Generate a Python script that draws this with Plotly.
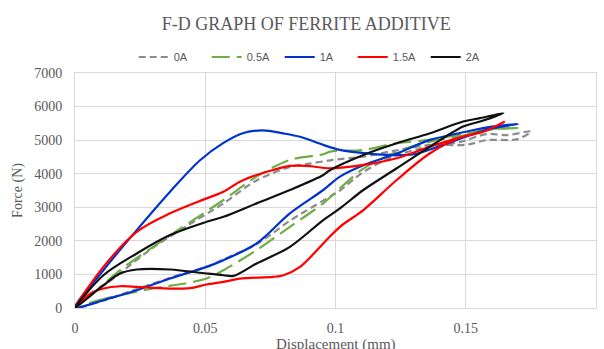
import plotly.graph_objects as go

# ---- data (displacement in mm, force in N); each loop = loading branch out, unloading branch back
x_0A = [0, 0.01, 0.025, 0.0416, 0.0505, 0.057, 0.0697, 0.0825, 0.0953, 0.1017, 0.1107, 0.1235, 0.136, 0.148, 0.158, 0.166, 0.175,
        0.17, 0.158, 0.15, 0.137, 0.1235, 0.1107, 0.099, 0.09, 0.0825, 0.0697, 0.057, 0.0441, 0.03, 0.015, 0]
f_0A = [0, 200, 600, 1027, 1224, 1450, 1900, 2600, 3200, 3500, 4050, 4550, 4800, 4950, 5180, 5150, 5260,
        5030, 5000, 4860, 4858, 4700, 4510, 4410, 4300, 4200, 3800, 3117, 2500, 1800, 900, 0]

x_05A = [0, 0.0077, 0.0173, 0.03, 0.0429, 0.0505, 0.057, 0.0697, 0.0825, 0.0953, 0.1017, 0.1107, 0.1235, 0.136, 0.15, 0.16, 0.17,
         0.16, 0.15, 0.136, 0.1235, 0.1107, 0.098, 0.0953, 0.0825, 0.0697, 0.057, 0.044, 0.03, 0.0173, 0.008, 0]
f_05A = [0, 200, 380, 580, 740, 877, 1126, 1723, 2419, 3117, 3564, 4150, 4650, 4950, 5150, 5320, 5360,
         5330, 5200, 5007, 4909, 4709, 4660, 4580, 4410, 3912, 3216, 2550, 1822, 1126, 500, 0]

x_1A = [0, 0.0045, 0.0109, 0.0237, 0.0365, 0.0505, 0.057, 0.0697, 0.0825, 0.0953, 0.1017, 0.1107, 0.1235, 0.136, 0.15, 0.16, 0.17,
        0.16, 0.15, 0.14, 0.13, 0.12, 0.11, 0.1017, 0.0953, 0.0864, 0.08, 0.072, 0.065, 0.057, 0.048, 0.0365, 0.0237, 0.0109, 0]
f_1A = [0, 80, 230, 530, 880, 1225, 1424, 1923, 2819, 3515, 3912, 4250, 4600, 5000, 5250, 5400, 5480,
        5350, 5100, 4820, 4580, 4560, 4620, 4709, 4858, 5100, 5200, 5290, 5220, 4920, 4400, 3464, 2320, 1126, 0]

x_15A = [0, 0.0058, 0.0109, 0.0173, 0.0237, 0.03, 0.0365, 0.0441, 0.0505, 0.057, 0.0633, 0.0761, 0.08, 0.0864, 0.0953, 0.1017,
         0.1107, 0.1235, 0.1363, 0.149, 0.157, 0.165,
         0.157, 0.149, 0.1363, 0.1235, 0.1107, 0.098, 0.089, 0.0825, 0.0761, 0.0697, 0.0633, 0.057, 0.0505, 0.0365, 0.0237, 0.0109, 0]
f_15A = [0, 430, 580, 648, 630, 600, 580, 590, 700, 777, 877, 926, 977, 1224, 1923, 2419,
         2917, 3813, 4610, 5106, 5256, 5554,
         5256, 5106, 4808, 4461, 4261, 4162, 4231, 4231, 4112, 3962, 3762, 3464, 3266, 2820, 2270, 1224, 0]

x_2A = [0, 0.0109, 0.0173, 0.0237, 0.0365, 0.0505, 0.057, 0.0608, 0.0697, 0.0825, 0.0953, 0.1017, 0.1107, 0.1235, 0.1363, 0.149, 0.1555, 0.1644,
        0.1555, 0.149, 0.1363, 0.1235, 0.1107, 0.098, 0.0953, 0.0825, 0.0697, 0.057, 0.0505, 0.0365, 0.0237, 0.0109, 0]
f_2A = [0, 678, 1027, 1147, 1147, 1027, 976, 956, 1326, 1822, 2619, 2968, 3515, 4162, 4808, 5405, 5554, 5805,
        5655, 5554, 5207, 4909, 4560, 4112, 3962, 3514, 3117, 2717, 2568, 2171, 1624, 976, 0]

series_names = ["0A", "0.5A", "1A", "1.5A", "2A"]
x_ticks = [0, 0.05, 0.1, 0.15, 0.2]
x_tick_text = ["0", "0.05", "0.1", "0.15", "0.2"]
y_ticks = [0, 1000, 2000, 3000, 4000, 5000, 6000, 7000]

styles = [
    dict(color="#8c8c8c", dash="7px,4px"),
    dict(color="#70ad47", dash="18px,7px"),
    dict(color="#0033cc", dash="solid"),
    dict(color="#ff0000", dash="solid"),
    dict(color="#111111", dash="solid"),
]
xs = [x_0A, x_05A, x_1A, x_15A, x_2A]
fs = [f_0A, f_05A, f_1A, f_15A, f_2A]

fig = go.Figure()
for name, x, f, st in zip(series_names, xs, fs, styles):
    fig.add_trace(go.Scatter(x=x, y=f, mode="lines", name=name,
                             line=dict(color=st["color"], width=2.2, dash=st["dash"],
                                       shape="spline", smoothing=0.9)))

serif = "Liberation Serif"
fig.update_layout(
    width=604, height=349,
    margin=dict(l=75, r=8, t=73, b=41, autoexpand=False),
    paper_bgcolor="white", plot_bgcolor="white",
    title=dict(text="F-D GRAPH OF FERRITE ADDITIVE", x=0.507, xanchor="center",
               y=1 - 24 / 349, yanchor="middle",
               font=dict(family=serif, size=18, color="#595959")),
    legend=dict(orientation="h", x=0.463, xanchor="center", yref="container",
                y=1 - 57 / 349, yanchor="middle",
                font=dict(family="Liberation Sans", size=11, color="#595959"),
                entrywidth=28, itemwidth=30, tracegroupgap=0),
    xaxis=dict(range=[0, 0.2], tickvals=x_ticks, ticktext=x_tick_text, automargin=False,
               showgrid=True, gridcolor="#d9d9d9", gridwidth=1,
               zeroline=False, showline=True, linecolor="#d9d9d9", linewidth=1, mirror=True,
               ticks="outside", ticklen=7, tickcolor="rgba(0,0,0,0)",
               tickfont=dict(family=serif, size=14, color="#595959")),
    yaxis=dict(range=[0, 7000], tickvals=y_ticks, automargin=False,
               showgrid=True, gridcolor="#d9d9d9", gridwidth=1,
               zeroline=False, showline=True, linecolor="#d9d9d9", linewidth=1, mirror=True,
               ticks="outside", ticklen=9, tickcolor="rgba(0,0,0,0)",
               tickfont=dict(family=serif, size=14, color="#595959"),
               title=dict(text="Force (N)", standoff=8,
                          font=dict(family=serif, size=14, color="#595959"))),
    annotations=[dict(text="Displacement (mm)", xref="paper", yref="paper",
                      x=0.5, y=(308 - 344) / 235, xanchor="center", yanchor="middle",
                      showarrow=False, font=dict(family=serif, size=15, color="#595959"))],
)

fig.write_html("out.html")
